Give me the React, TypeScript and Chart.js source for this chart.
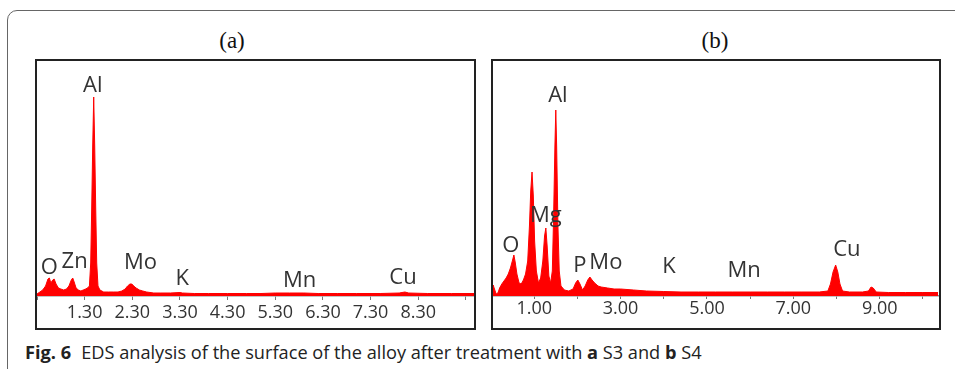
import React, { useEffect, useRef } from "react";
import { Chart, registerables } from "chart.js";

Chart.register(...registerables);

// ---------- Panel (a): S3 ----------
const energyA = [
  0.3, 0.36, 0.42, 0.48, 0.53, 0.56, 0.59, 0.63, 0.66, 0.7, 0.75, 0.8, 0.86, 0.92, 0.97,
  1.02, 1.05, 1.08, 1.12, 1.17, 1.22, 1.27, 1.32, 1.36, 1.4, 1.427, 1.448, 1.469, 1.49,
  1.511, 1.532, 1.553, 1.58, 1.62, 1.7, 1.8, 1.9, 2.0, 2.08, 2.15, 2.2, 2.25, 2.29, 2.33,
  2.38, 2.45, 2.52, 2.6, 2.75, 2.9, 3.1, 3.3, 3.35, 3.6, 3.9, 4.3, 4.7, 5.0, 5.3, 5.6,
  5.9, 6.2, 6.6, 7.0, 7.5, 7.9, 8.02, 8.1, 8.5, 9.0, 9.47,
];
const countsA = [
  2, 4, 6, 10, 17, 18, 13, 16, 17, 12, 8, 7, 6, 7, 10,
  16, 18, 14, 8, 6, 5, 6, 7, 8, 10, 33, 88, 150, 199,
  150, 88, 33, 10, 6, 4, 4, 4, 4, 5, 7, 10, 12, 12, 10,
  8, 6, 5, 4, 3, 3, 3, 3.5, 3, 2.5, 2.5, 2.5, 2.5, 2.5, 3, 3,
  3, 2.5, 2.5, 2.5, 2.5, 3, 4, 3, 2.5, 2.5, 2.5,
];
const ticksA = [0.3, 1.3, 2.3, 3.3, 4.3, 5.3, 6.3, 7.3, 8.3, 9.3];
const tickLabelsA = ["", "1.30", "2.30", "3.30", "4.30", "5.30", "6.30", "7.30", "8.30", ""];
const elementsA = ["O", "Zn", "Al", "Mo", "K", "Mn", "Cu"];
const elemEnergyA = [0.56, 1.09, 1.47, 2.47, 3.35, 5.81, 7.98];
const elemHeightA = [28, 34, 210, 33, 17, 15, 18];

// ---------- Panel (b): S4 ----------
const energyB = [
  0.0, 0.03, 0.05, 0.08, 0.12, 0.16, 0.2, 0.25, 0.3, 0.35, 0.4, 0.45, 0.5, 0.53, 0.56,
  0.6, 0.65, 0.7, 0.75, 0.8, 0.85, 0.89, 0.92, 0.95, 0.98, 1.01, 1.05, 1.1, 1.15, 1.2,
  1.24, 1.27, 1.3, 1.34, 1.38, 1.42, 1.45, 1.48, 1.5, 1.52, 1.55, 1.58, 1.62, 1.7, 1.8,
  1.9, 1.96, 2.01, 2.06, 2.12, 2.18, 2.24, 2.29, 2.34, 2.4, 2.48, 2.55, 2.7, 2.85, 3.0,
  3.3, 3.6, 4.0, 4.4, 4.8, 5.2, 5.6, 6.0, 6.4, 6.8, 7.2, 7.6, 7.8, 7.86, 7.92, 7.98,
  8.03, 8.08, 8.14, 8.3, 8.6, 8.74, 8.8, 8.85, 8.92, 9.2, 9.6, 10.0, 10.35,
];
const countsB = [
  0, 6, 11, 7, 2, 3, 8, 12, 15, 18, 22, 28, 36, 41, 34,
  22, 13, 12, 16, 22, 35, 70, 105, 124, 100, 55, 25, 13, 18, 35,
  60, 68, 50, 20, 13, 25, 80, 150, 186, 150, 70, 25, 10, 6, 5,
  7, 13, 16, 12, 6, 10, 16, 19, 16, 13, 10, 9, 8, 7, 7,
  6, 5, 4.5, 4, 4, 4, 4, 4, 4, 4, 4, 4, 5, 12, 24, 31,
  24, 12, 5, 4, 4, 5, 9, 8, 4, 3.5, 3.5, 3.5, 3.5,
];
const ticksB = [0, 1, 2, 3, 4, 5, 6, 7, 8, 9, 10];
const tickLabelsB = ["", "1.00", "", "3.00", "", "5.00", "", "7.00", "", "9.00", ""];
const elementsB = ["O", "Mg", "Al", "P", "Mo", "K", "Mn", "Cu"];
const elemEnergyB = [0.46, 1.27, 1.55, 2.06, 2.66, 4.12, 5.86, 8.24];
const elemHeightB = [50, 80, 200, 30, 33, 29, 25, 46];

type PanelProps = {
  left: number;
  top: number;
  width: number;
  height: number;
  energies: number[];
  counts: number[];
  xMin: number;
  xMax: number;
  tickValues: number[];
  tickLabels: string[];
  elements: string[];
  elemEnergy: number[];
  elemHeight: number[];
  padRight: number;
  tickLen: number;
  tickPad: number;
};

function Spectrum(p: PanelProps) {
  const ref = useRef<HTMLCanvasElement | null>(null);
  useEffect(() => {
    if (!ref.current) return;
    const labelPlugin = {
      id: "peakLabels",
      afterDatasetsDraw(chart: any) {
        const { ctx, scales } = chart;
        ctx.save();
        ctx.fillStyle = "#333333";
        ctx.font = "22px 'Open Sans'";
        ctx.textAlign = "center";
        ctx.textBaseline = "middle";
        p.elements.forEach((t, i) => {
          ctx.fillText(
            t,
            scales.x.getPixelForValue(p.elemEnergy[i]),
            scales.y.getPixelForValue(p.elemHeight[i])
          );
        });
        ctx.restore();
      },
    };
    const chart = new Chart(ref.current, {
      type: "line",
      data: {
        datasets: [
          {
            data: p.energies.map((e, i) => ({ x: e, y: p.counts[i] })),
            borderColor: "#ff0000",
            backgroundColor: "#ff0000",
            fill: "origin",
            pointRadius: 0,
            borderWidth: 1,
            tension: 0,
          },
        ],
      },
      options: {
        animation: false,
        responsive: true,
        maintainAspectRatio: false,
        layout: { padding: { left: 0, right: p.padRight, top: 2, bottom: 0 } },
        plugins: { legend: { display: false }, tooltip: { enabled: false } },
        scales: {
          x: {
            type: "linear",
            min: p.xMin,
            max: p.xMax,
            afterBuildTicks: (s: any) => {
              s.ticks = p.tickValues.map((v) => ({ value: v }));
            },
            afterFit: (s: any) => {
              s.height = 34;
            },
            ticks: {
              autoSkip: false,
              maxRotation: 0,
              padding: p.tickPad,
              color: "#333333",
              font: { family: "'Open Sans'", size: 18 },
              callback: (_v: any, i: number) => p.tickLabels[i],
            },
            grid: { drawOnChartArea: false, tickLength: p.tickLen, color: "#777777" },
            border: { color: "#8a8a8a", width: 1.5 },
          },
          y: { display: false, min: 0, max: 235 },
        },
      } as any,
      plugins: [labelPlugin],
    });
    return () => chart.destroy();
  }, []);
  return (
    <div
      style={{
        position: "absolute",
        left: p.left,
        top: p.top,
        width: p.width,
        height: p.height,
      }}
    >
      <canvas ref={ref} />
      <div
        style={{
          position: "absolute",
          left: 0,
          top: 0,
          width: p.width,
          height: p.height,
          border: "2px solid #222",
          boxSizing: "border-box",
          pointerEvents: "none",
        }}
      />
    </div>
  );
}

export default function App() {
  return (
    <div
      style={{
        position: "absolute",
        left: 0,
        top: 0,
        width: 955,
        height: 369,
        overflow: "hidden",
        background: "#fff",
      }}
    >
      <div
        style={{
          position: "absolute",
          left: 7,
          top: 10,
          width: 980,
          height: 380,
          border: "1.5px solid #666",
          borderRadius: 10,
          boxSizing: "border-box",
        }}
      />
      <div
        style={{
          position: "absolute",
          left: 182,
          top: 27,
          width: 100,
          textAlign: "center",
          fontFamily: "'Liberation Serif', serif",
          fontSize: 23,
          lineHeight: "28px",
          color: "#111",
        }}
      >
        (a)
      </div>
      <div
        style={{
          position: "absolute",
          left: 665,
          top: 27,
          width: 100,
          textAlign: "center",
          fontFamily: "'Liberation Serif', serif",
          fontSize: 23,
          lineHeight: "28px",
          color: "#111",
        }}
      >
        (b)
      </div>
      <Spectrum
        left={35}
        top={59}
        width={441}
        height={271}
        energies={energyA}
        counts={countsA}
        xMin={0.3}
        xMax={9.47}
        tickValues={ticksA}
        tickLabels={tickLabelsA}
        elements={elementsA}
        elemEnergy={elemEnergyA}
        elemHeight={elemHeightA}
        padRight={2}
        tickLen={4}
        tickPad={2}
      />
      <Spectrum
        left={491}
        top={59}
        width={450}
        height={271}
        energies={energyB}
        counts={countsB}
        xMin={0}
        xMax={10.35}
        tickValues={ticksB}
        tickLabels={tickLabelsB}
        elements={elementsB}
        elemEnergy={elemEnergyB}
        elemHeight={elemHeightB}
        padRight={3}
        tickLen={3}
        tickPad={-1}
      />
      <div
        style={{
          position: "absolute",
          left: 25,
          top: 341,
          whiteSpace: "nowrap",
          fontFamily: "'Open Sans', sans-serif",
          fontSize: 18.2,
          lineHeight: "22px",
          color: "#222",
        }}
      >
        <b>Fig. 6</b>
        <span style={{ marginLeft: 10 }}>
          EDS analysis of the surface of the alloy after treatment with <b>a</b> S3 and{" "}
          <b>b</b> S4
        </span>
      </div>
    </div>
  );
}
